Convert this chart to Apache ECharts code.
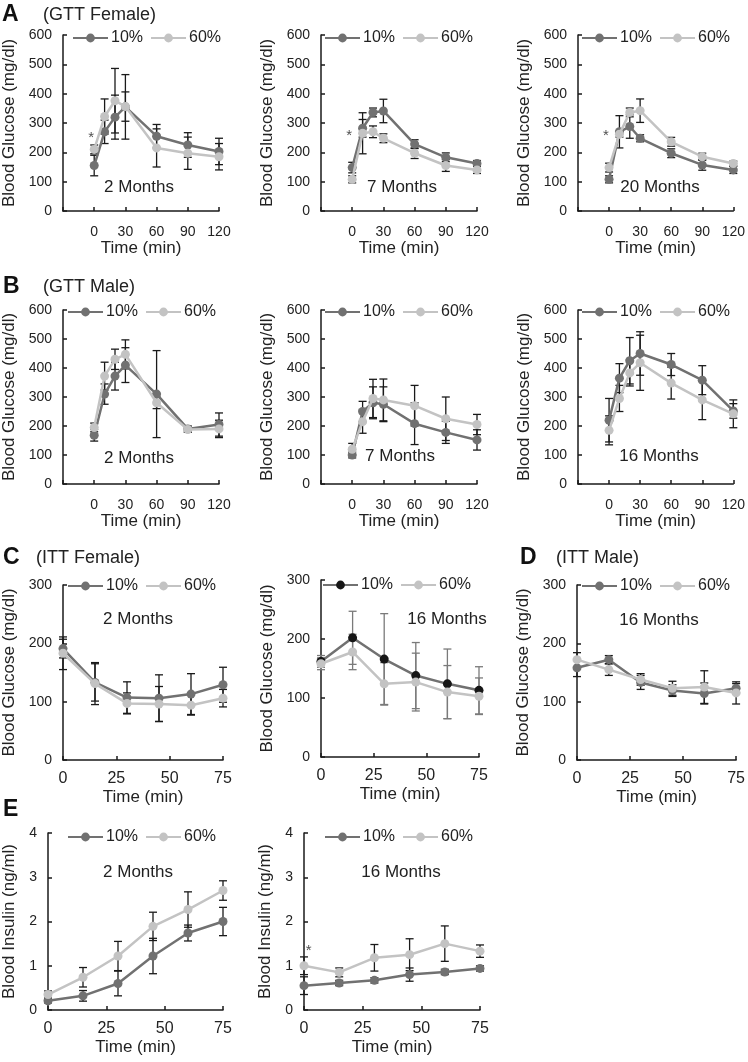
<!DOCTYPE html>
<html>
<head>
<meta charset="utf-8">
<title>GTT / ITT / insulin</title>
<script src="https://cdn.jsdelivr.net/npm/echarts@6/dist/echarts.min.js"></script>
<style>
  html, body { margin: 0; padding: 0; background: #fff; }
  #chart { width: 748px; height: 1062px; }
</style>
</head>
<body>
<div id="chart"></div>
<script>
// time points (min)
const gttTime = [0, 10, 20, 30, 60, 90, 120];
const ittTime = [0, 15, 30, 45, 60, 75];

// A: GTT female
const gttF2m10 = [155, 270, 320, 355, 255, 225, 203];
const gttF2m10Err = [35, 40, 75, 110, 40, 42, 45];
const gttF2m60 = [210, 322, 376, 356, 215, 197, 185];
const gttF2m60Err = [15, 60, 110, 50, 65, 55, 45];

const gttF7m10 = [148, 282, 336, 341, 228, 183, 162];
const gttF7m10Err = [18, 30, 15, 40, 15, 15, 10];
const gttF7m60 = [108, 265, 270, 248, 197, 155, 140];
const gttF7m60Err = [12, 70, 20, 15, 18, 20, 12];

const gttF20m10 = [108, 270, 288, 248, 197, 157, 140];
const gttF20m10Err = [12, 55, 40, 12, 15, 18, 12];
const gttF20m60 = [148, 262, 336, 342, 236, 185, 162];
const gttF20m60Err = [15, 10, 15, 40, 15, 12, 8];

// B: GTT male
const gttM2m10 = [168, 310, 372, 410, 310, 190, 205];
const gttM2m10Err = [20, 35, 48, 60, 150, 10, 40];
const gttM2m60 = [195, 372, 430, 447, 280, 188, 190];
const gttM2m60Err = [15, 48, 35, 50, 20, 10, 30];

const gttM7m10 = [100, 250, 280, 275, 208, 178, 152];
const gttM7m10Err = [10, 35, 55, 60, 72, 38, 35];
const gttM7m60 = [120, 215, 295, 290, 270, 225, 205];
const gttM7m60Err = [20, 40, 66, 72, 70, 75, 35];

const gttM16m10 = [220, 365, 425, 450, 412, 358, 252];
const gttM16m10Err = [75, 50, 80, 75, 38, 50, 25];
const gttM16m60 = [185, 295, 383, 418, 348, 290, 242];
const gttM16m60Err = [50, 45, 45, 95, 55, 68, 48];

// C: ITT female, D: ITT male
const ittF2m10 = [191, 133, 107, 106, 113, 129];
const ittF2m10Err = [16, 32, 27, 40, 35, 30];
const ittF2m60 = [183, 131, 97, 96, 94, 106];
const ittF2m60Err = [28, 36, 18, 30, 17, 15];

const ittF16m10 = [162, 202, 166, 138, 124, 113];
const ittF16m10Err = [10, 45, 77, 56, 59, 40];
const ittF16m60 = [158, 178, 124, 127, 110, 103];
const ittF16m60Err = [10, 30, 36, 49, 45, 31];

const ittM16m10 = [158, 172, 133, 119, 114, 123];
const ittM16m10Err = [15, 7, 12, 10, 18, 8];
const ittM16m60 = [172, 155, 138, 123, 125, 115];
const ittM16m60Err = [12, 10, 10, 12, 28, 19];

// E: insulin
const ins2m10 = [0.21, 0.32, 0.60, 1.22, 1.74, 2.00];
const ins2m10Err = [0.05, 0.12, 0.28, 0.40, 0.18, 0.32];
const ins2m60 = [0.35, 0.74, 1.22, 1.89, 2.27, 2.70];
const ins2m60Err = [0.08, 0.22, 0.33, 0.32, 0.40, 0.22];

const ins16m10 = [0.55, 0.61, 0.67, 0.80, 0.86, 0.94];
const ins16m10Err = [0.2, 0.06, 0.06, 0.15, 0.06, 0.06];
const ins16m60 = [1.00, 0.85, 1.18, 1.25, 1.50, 1.33];
const ins16m60Err = [0.2, 0.1, 0.3, 0.36, 0.4, 0.14];

// significance stars [time, value]
const starA1 = [[-3, 250]];
const starA2 = [[-3, 255]];
const starA3 = [[-3, 255]];
const starE2 = [[2, 1.33]];

const FONT = '"Liberation Sans", Arial, Helvetica, sans-serif';
const DARK = '#717171';
const LIGHT = '#c3c3c3';
const INK = '#1a1a1a';
const glucose = 'Blood Glucose (mg/dl)';

const gttX = { min: -30, max: 120, interval: 30, label: 14, margin: 14 };
const ittX = { min: 0, max: 75, interval: 25, label: 16, margin: 11 };

const panels = [
  { key: 'A1', grid: { left: 63, top: 35, width: 156, height: 176 }, x: gttX, t: gttTime, yMax: 600, yStep: 100, yName: glucose, yGap: 45,
    s10: gttF2m10, e10: gttF2m10Err, s60: gttF2m60, e60: gttF2m60Err, month: '2 Months', mPos: [139, 187], lg: [72, 39], star: starA1 },
  { key: 'A2', grid: { left: 321, top: 35, width: 156, height: 176 }, x: gttX, t: gttTime, yMax: 600, yStep: 100, yName: glucose, yGap: 45,
    s10: gttF7m10, e10: gttF7m10Err, s60: gttF7m60, e60: gttF7m60Err, month: '7 Months', mPos: [402, 187], lg: [324, 39], star: starA2 },
  { key: 'A3', grid: { left: 578, top: 35, width: 156, height: 176 }, x: gttX, t: gttTime, yMax: 600, yStep: 100, yName: glucose, yGap: 45,
    s10: gttF20m10, e10: gttF20m10Err, s60: gttF20m60, e60: gttF20m60Err, month: '20 Months', mPos: [660, 187], lg: [581, 39], star: starA3 },
  { key: 'B1', grid: { left: 63, top: 310, width: 156, height: 174 }, x: gttX, t: gttTime, yMax: 600, yStep: 100, yName: glucose, yGap: 45,
    s10: gttM2m10, e10: gttM2m10Err, s60: gttM2m60, e60: gttM2m60Err, month: '2 Months', mPos: [139, 458], lg: [67, 313] },
  { key: 'B2', grid: { left: 321, top: 310, width: 156, height: 174 }, x: gttX, t: gttTime, yMax: 600, yStep: 100, yName: glucose, yGap: 45,
    s10: gttM7m10, e10: gttM7m10Err, s60: gttM7m60, e60: gttM7m60Err, month: '7 Months', mPos: [400, 456], lg: [324, 313] },
  { key: 'B3', grid: { left: 578, top: 310, width: 156, height: 174 }, x: gttX, t: gttTime, yMax: 600, yStep: 100, yName: glucose, yGap: 45,
    s10: gttM16m10, e10: gttM16m10Err, s60: gttM16m60, e60: gttM16m60Err, month: '16 Months', mPos: [659, 456], lg: [581, 313] },
  { key: 'C1', grid: { left: 63, top: 585, width: 160, height: 175 }, x: ittX, t: ittTime, yMax: 300, yStep: 100, yName: glucose, yGap: 45,
    s10: ittF2m10, e10: ittF2m10Err, s60: ittF2m60, e60: ittF2m60Err, month: '2 Months', mPos: [138, 619], lg: [67, 587] },
  { key: 'C2', grid: { left: 321, top: 580, width: 158, height: 177 }, x: ittX, t: ittTime, yMax: 300, yStep: 100, yName: glucose, yGap: 45,
    s10: ittF16m10, e10: ittF16m10Err, s60: ittF16m60, e60: ittF16m60Err, month: '16 Months', mPos: [447, 619], lg: [322, 586],
    mark10: '#161616', errColor: '#7a7a7a' },
  { key: 'D', grid: { left: 577, top: 585, width: 160, height: 175 }, x: ittX, t: ittTime, yMax: 300, yStep: 100, yName: glucose, yGap: 45,
    s10: ittM16m10, e10: ittM16m10Err, s60: ittM16m60, e60: ittM16m60Err, month: '16 Months', mPos: [659, 620], lg: [581, 587] },
  { key: 'E1', grid: { left: 48, top: 833, width: 175, height: 177 }, x: ittX, t: ittTime, yMax: 4, yStep: 1, yName: 'Blood Insulin (ng/ml)', yGap: 30,
    s10: ins2m10, e10: ins2m10Err, s60: ins2m60, e60: ins2m60Err, month: '2 Months', mPos: [138, 872], lg: [67, 838] },
  { key: 'E2', grid: { left: 304, top: 833, width: 176, height: 177 }, x: ittX, t: ittTime, yMax: 4, yStep: 1, yName: 'Blood Insulin (ng/ml)', yGap: 30,
    s10: ins16m10, e10: ins16m10Err, s60: ins16m60, e60: ins16m60Err, month: '16 Months', mPos: [401, 872], lg: [324, 838], star: starE2 }
];

// panel letters and headings
const headings = [
  { letter: 'A', lx: 2, text: '(GTT Female)', tx: 43, y: 15 },
  { letter: 'B', lx: 3, text: '(GTT Male)', tx: 43, y: 287 },
  { letter: 'C', lx: 3, text: '(ITT Female)', tx: 36, y: 558 },
  { letter: 'D', lx: 520, text: '(ITT Male)', tx: 556, y: 558 },
  { letter: 'E', lx: 3, text: '', tx: 0, y: 810 }
];

const zip = (xs, ys) => xs.map((x, i) => [x, ys[i]]);
const zipErr = (xs, ys, es) => xs.map((x, i) => [x, ys[i], es[i]]);

function errorBars(color) {
  return function (params, api) {
    const x = api.value(0), y = api.value(1), e = api.value(2);
    const hi = api.coord([x, y + e]);
    const lo = api.coord([x, Math.max(0, y - e)]);
    const w = 4;
    const style = { stroke: color, lineWidth: 1.3 };
    return {
      type: 'group',
      children: [
        { type: 'line', shape: { x1: hi[0], y1: hi[1], x2: lo[0], y2: lo[1] }, style },
        { type: 'line', shape: { x1: hi[0] - w, y1: hi[1], x2: hi[0] + w, y2: hi[1] }, style },
        { type: 'line', shape: { x1: lo[0] - w, y1: lo[1], x2: lo[0] + w, y2: lo[1] }, style }
      ]
    };
  };
}

const grids = [], xAxes = [], yAxes = [], series = [], legends = [], graphics = [];

panels.forEach((p, i) => {
  grids.push(p.grid);
  xAxes.push({
    gridIndex: i, type: 'value', min: p.x.min, max: p.x.max, interval: p.x.interval,
    axisLine: { show: true, onZero: false, lineStyle: { color: INK, width: 1.5 } },
    axisTick: { show: true, inside: true, length: 4, lineStyle: { color: INK, width: 1.5 } },
    axisLabel: { color: '#222', fontSize: p.x.label, fontFamily: FONT, margin: p.x.margin,
      formatter: v => (v < 0 ? '' : v) },
    splitLine: { show: false },
    name: 'Time (min)', nameLocation: 'middle', nameGap: 29,
    nameTextStyle: { color: '#222', fontSize: 17, fontFamily: FONT }
  });
  yAxes.push({
    gridIndex: i, type: 'value', min: 0, max: p.yMax, interval: p.yStep,
    axisLine: { show: true, onZero: false, lineStyle: { color: INK, width: 1.5 } },
    axisTick: { show: true, inside: true, length: 4, lineStyle: { color: INK, width: 1.5 } },
    axisLabel: { color: '#222', fontSize: 14, fontFamily: FONT, margin: 11 },
    splitLine: { show: false },
    name: p.yName, nameLocation: 'middle', nameGap: p.yGap,
    nameTextStyle: { color: '#222', fontSize: 17, fontFamily: FONT }
  });

  const errColor = p.errColor || INK;
  series.push(
    { type: 'custom', xAxisIndex: i, yAxisIndex: i, data: zipErr(p.t, p.s10, p.e10),
      renderItem: errorBars(errColor), z: 1, silent: true },
    { type: 'custom', xAxisIndex: i, yAxisIndex: i, data: zipErr(p.t, p.s60, p.e60),
      renderItem: errorBars(errColor), z: 1, silent: true },
    { type: 'line', name: p.key + ' 10%', xAxisIndex: i, yAxisIndex: i, data: zip(p.t, p.s10),
      symbol: 'circle', symbolSize: 9, showSymbol: true, z: 3,
      lineStyle: { color: DARK, width: 2.5 }, itemStyle: { color: p.mark10 || DARK } },
    { type: 'line', name: p.key + ' 60%', xAxisIndex: i, yAxisIndex: i, data: zip(p.t, p.s60),
      symbol: 'circle', symbolSize: 9, showSymbol: true, z: 4,
      lineStyle: { color: LIGHT, width: 2.5 }, itemStyle: { color: LIGHT } }
  );
  if (p.star) {
    series.push({
      type: 'scatter', xAxisIndex: i, yAxisIndex: i, data: p.star, symbolSize: 2,
      itemStyle: { color: 'rgba(0,0,0,0)' }, z: 5, silent: true,
      label: { show: true, position: 'inside', formatter: '*', color: '#222', fontSize: 15, fontFamily: FONT }
    });
  }

  legends.push({
    left: p.lg[0], top: p.lg[1] - 9, padding: 0, itemWidth: 35, itemHeight: 11, itemGap: 7,
    selectedMode: false, data: [p.key + ' 10%', p.key + ' 60%'],
    formatter: n => n.split(' ')[1],
    textStyle: { color: '#222', fontSize: 16, fontFamily: FONT, padding: [0, 0, 0, -2] }
  });

  graphics.push({
    type: 'text', x: p.mPos[0], y: p.mPos[1],
    style: { text: p.month, fill: '#222', font: '17px ' + FONT, align: 'center', verticalAlign: 'middle' }
  });
});

headings.forEach(h => {
  graphics.push({
    type: 'text', x: h.lx, y: h.y,
    style: { text: h.letter, fill: '#111', font: 'bold 23px ' + FONT, align: 'left', verticalAlign: 'middle' }
  });
  if (h.text) {
    graphics.push({
      type: 'text', x: h.tx, y: h.y,
      style: { text: h.text, fill: '#222', font: '18px ' + FONT, align: 'left', verticalAlign: 'middle' }
    });
  }
});

const chart = echarts.init(document.getElementById('chart'));
chart.setOption({
  backgroundColor: '#fff',
  animation: false,
  textStyle: { fontFamily: FONT },
  grid: grids,
  xAxis: xAxes,
  yAxis: yAxes,
  legend: legends,
  series: series,
  graphic: graphics
});
</script>
</body>
</html>
